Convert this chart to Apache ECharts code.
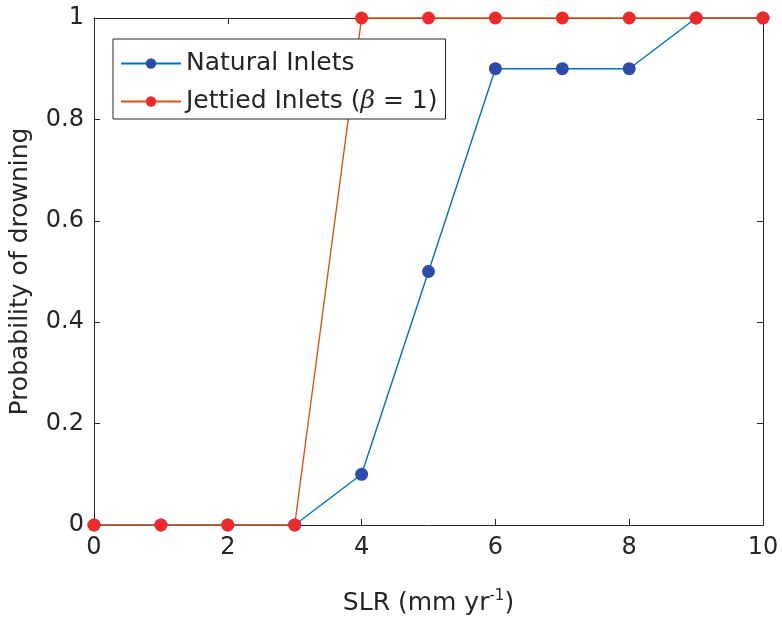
<!DOCTYPE html>
<html>
<head>
<meta charset="utf-8">
<script src="https://cdn.jsdelivr.net/npm/echarts@6/dist/echarts.min.js"></script>
<style>
html, body { margin: 0; padding: 0; background: #fff; }
#chart { width: 782px; height: 621px; }
</style>
</head>
<body>
<div id="chart"></div>
<script>
// SLR values (mm/yr) and drowning probability
var slr = [0, 1, 2, 3, 4, 5, 6, 7, 8, 9, 10];
var natural = [0, 0, 0, 0, 0.1, 0.5, 0.9, 0.9, 0.9, 1, 1];
var jettied = [0, 0, 0, 0, 1, 1, 1, 1, 1, 1, 1];

function pairs(xs, ys) {
    return xs.map(function (x, i) { return [x, ys[i]]; });
}

var font = 'DejaVu Sans';
var axisColor = '#262626';

var myChart = echarts.init(document.getElementById('chart'));
var option = {
    backgroundColor: '#fff',
    animation: false,
    grid: { left: 92, right: 19, top: 18, bottom: 95 },
    legend: {
        left: 113,
        top: 39,
        orient: 'vertical',
        itemWidth: 60,
        itemHeight: 13,
        itemGap: 13,
        padding: [12, 8, 5, 7],
        backgroundColor: '#fff',
        borderColor: '#262626',
        borderWidth: 1,
        borderRadius: 0,
        textStyle: { fontFamily: font, fontSize: 25, color: axisColor, rich: {
            it: { fontFamily: 'DejaVu Serif', fontStyle: 'italic', fontSize: 25, color: axisColor }
        } },
        formatter: function (name) {
            return name === 'jet' ? 'Jettied Inlets ({it|β} = 1)' : 'Natural Inlets';
        },
        data: ['nat', 'jet']
    },
    xAxis: [{
        type: 'value', min: 0, max: 10, interval: 2,
        name: 'SLR (mm yr{sup|-1})',
        nameLocation: 'middle',
        nameGap: 64,
        nameTextStyle: { fontFamily: font, fontSize: 25, color: axisColor, rich: {
            sup: { fontFamily: font, fontSize: 15, color: axisColor, verticalAlign: 'top', padding: [0, 0, 14, 0] }
        } },
        axisLine: { onZero: false, lineStyle: { color: axisColor, width: 1 } },
        axisTick: { inside: true, length: 6, lineStyle: { color: axisColor } },
        axisLabel: { fontFamily: font, fontSize: 24, color: axisColor, margin: 11 },
        splitLine: { show: false }
    }, {
        type: 'value', min: 0, max: 10, interval: 2, position: 'top',
        axisLine: { onZero: false, lineStyle: { color: axisColor, width: 1 } },
        axisTick: { inside: true, length: 6, lineStyle: { color: axisColor } },
        axisLabel: { show: false },
        splitLine: { show: false }
    }],
    yAxis: [{
        type: 'value', min: 0, max: 1, interval: 0.2,
        name: 'Probability of drowning',
        nameLocation: 'middle',
        nameGap: 61,
        nameTextStyle: { fontFamily: font, fontSize: 25, color: axisColor },
        axisLine: { show: true, onZero: false, lineStyle: { color: axisColor, width: 1 } },
        axisTick: { show: true, inside: true, length: 6, lineStyle: { color: axisColor } },
        axisLabel: { fontFamily: font, fontSize: 24, color: axisColor, margin: 10 },
        splitLine: { show: false }
    }, {
        type: 'value', min: 0, max: 1, interval: 0.2, position: 'right',
        axisLine: { show: true, onZero: false, lineStyle: { color: axisColor, width: 1 } },
        axisTick: { show: true, inside: true, length: 6, lineStyle: { color: axisColor } },
        axisLabel: { show: false },
        splitLine: { show: false }
    }],
    series: [{
        name: 'nat',
        type: 'line',
        data: pairs(slr, natural),
        clip: false,
        symbol: 'circle',
        symbolSize: 13,
        lineStyle: { color: '#0072BD', width: 1.4 },
        itemStyle: { color: '#2F4BA8' }
    }, {
        name: 'jet',
        type: 'line',
        data: pairs(slr, jettied),
        clip: false,
        symbol: 'circle',
        symbolSize: 13,
        lineStyle: { color: '#D95319', width: 1.4 },
        itemStyle: { color: '#EE2A2A' }
    }]
};
myChart.setOption(option);
</script>
</body>
</html>
